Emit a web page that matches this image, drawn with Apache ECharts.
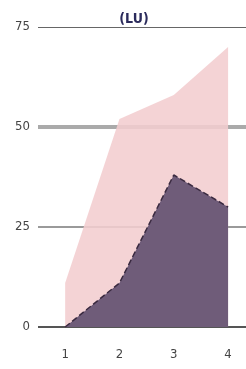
<!DOCTYPE html>
<html><head><meta charset="utf-8">
<script src="https://cdn.jsdelivr.net/npm/echarts@6/dist/echarts.min.js"></script>
<style>html,body{margin:0;padding:0;background:#fff}#c{width:246px;height:369px}</style>
</head><body><div id="c"></div>
<script>
const categories = [1, 2, 3, 4];
const pinkValues = [11, 52, 58, 70];
const purpleValues = [0, 11, 38, 30];
const yTicks = [0, 25, 50, 75];
const titleText = '(LU)';

const FONT = "'DejaVu Sans Condensed', 'Liberation Sans', sans-serif";
const chart = echarts.init(document.getElementById('c'));
const gridStyles = {0:{color:'#555',width:2},25:{color:'#9a9a9a',width:2},50:{color:'#aaa',width:4},75:{color:'#666',width:1}};
const pair = vals => categories.map((c,i)=>[c, vals[i]]);
chart.setOption({
  animation:false,
  title:{text:titleText,left:129,top:7,textAlign:'center',textStyle:{fontFamily:FONT,fontSize:14,fontWeight:'bold',color:'#2b2b5c'}},
  grid:{left:38,right:0,top:27,bottom:42},
  xAxis:{type:'value',min:0.5,max:4.33,interval:0.5,
    axisLine:{show:false},axisTick:{show:false},splitLine:{show:false},
    axisLabel:{fontFamily:FONT,fontSize:13,color:'#444',margin:21,showMaxLabel:false,showMinLabel:false,
      formatter:v=>Number.isInteger(v)?String(v):''}},
  yAxis:{type:'value',min:0,max:75,interval:25,
    axisLine:{show:false},axisTick:{show:false},splitLine:{show:false},
    axisLabel:{fontFamily:FONT,fontSize:13,color:'#444',margin:8}},
  series:[
    {type:'line',data:[],z:1,
     markLine:{silent:true,z:1,symbol:'none',label:{show:false},
       data:yTicks.map(v=>({yAxis:v,lineStyle:{type:'solid',color:gridStyles[v].color,width:gridStyles[v].width}}))}},
    {type:'line',data:pair(pinkValues),symbol:'none',lineStyle:{width:0},areaStyle:{color:'#f3cdcf',opacity:0.88},z:2},
    {type:'line',data:pair(purpleValues),symbol:'none',lineStyle:{width:1.5,type:'dashed',color:'#3a2a40'},areaStyle:{color:'#6f5c79',opacity:1},z:3}
  ]
});
</script></body></html>
